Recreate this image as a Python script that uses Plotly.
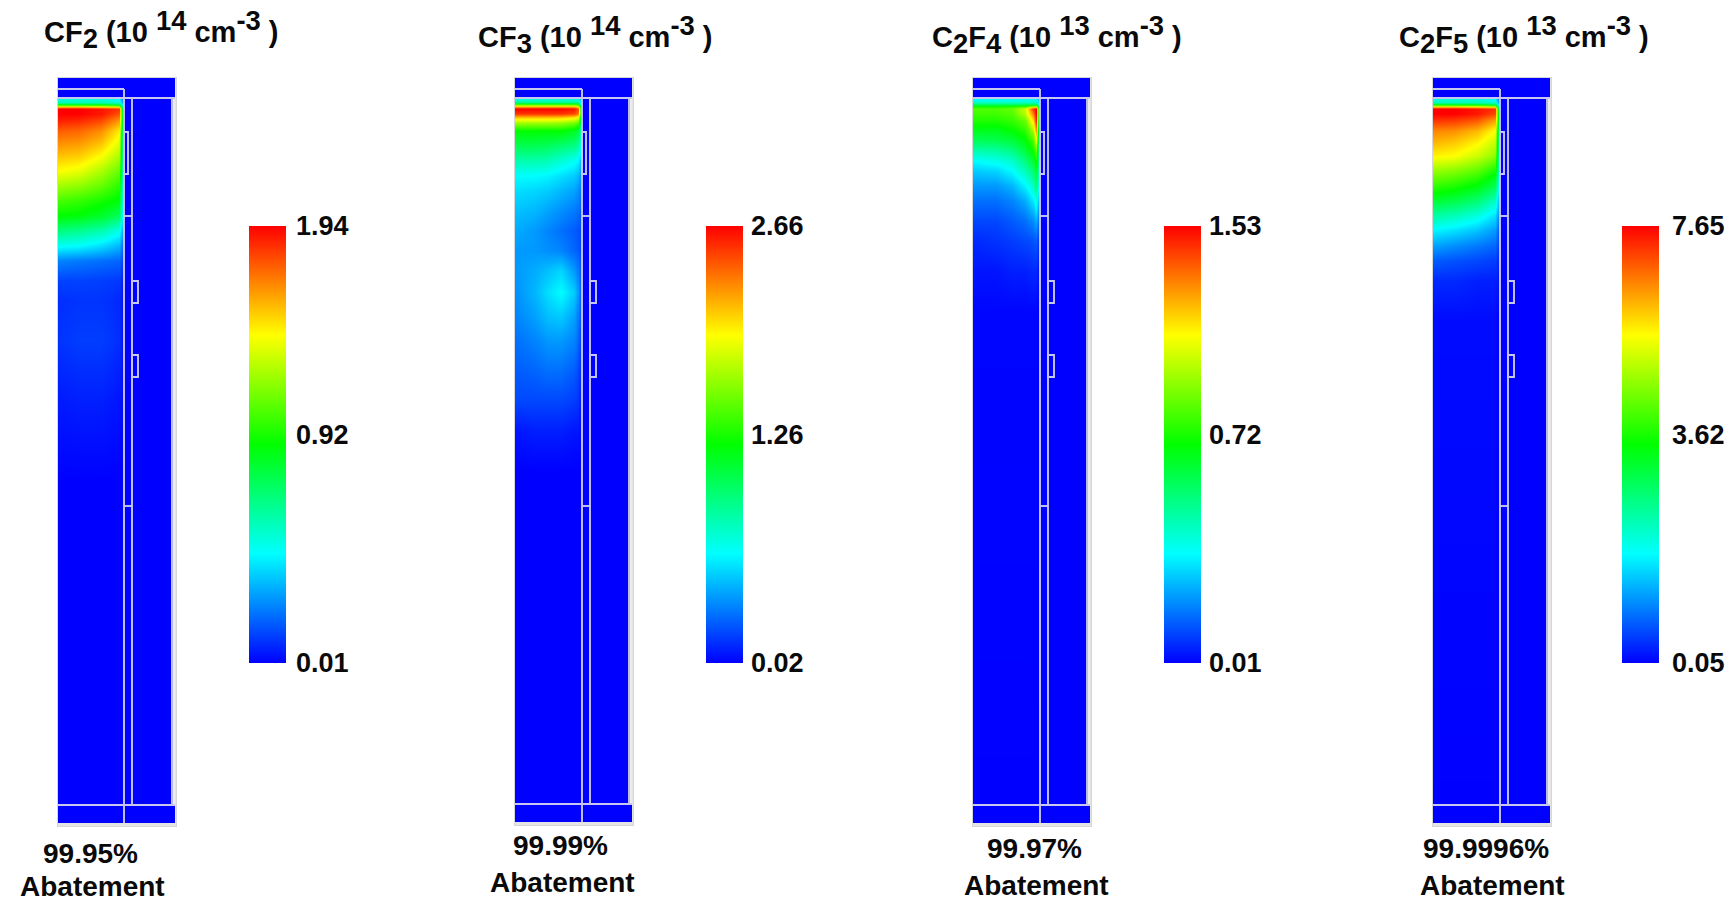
import plotly.graph_objects as go

# ---------- data ----------
title_html = [
    "CF<sub><span style='font-size:135%'>2</span></sub> (10 <sup><span style='font-size:135%'>14</span></sup> cm<sup><span style='font-size:135%'>-3</span></sup> )",
    "CF<sub><span style='font-size:135%'>3</span></sub> (10 <sup><span style='font-size:135%'>14</span></sup> cm<sup><span style='font-size:135%'>-3</span></sup> )",
    "C<sub><span style='font-size:135%'>2</span></sub>F<sub><span style='font-size:135%'>4</span></sub> (10 <sup><span style='font-size:135%'>13</span></sup> cm<sup><span style='font-size:135%'>-3</span></sup> )",
    "C<sub><span style='font-size:135%'>2</span></sub>F<sub><span style='font-size:135%'>5</span></sub> (10 <sup><span style='font-size:135%'>13</span></sup> cm<sup><span style='font-size:135%'>-3</span></sup> )",
]
abatement = ["99.95%", "99.99%", "99.97%", "99.9996%"]
scale_lo = [0.01, 0.02, 0.01, 0.05]
scale_hi = [1.94, 2.66, 1.53, 7.65]
scale_mid = ["0.92", "1.26", "0.72", "3.62"]

# heat fields: level on the colour scale (0..1); rows = height in chamber, cols = across chamber
cf2_rows = [99, 102, 104, 106, 108, 113, 120, 130, 140, 155, 170, 185, 200, 215, 230, 245, 260, 280, 300, 340, 400, 480, 805]
cf2_cols = [0, 0.33, 0.67, 0.95, 1.0]
cf2_levels = [
    [.28, .28, .28, .25, .15],
    [.33, .33, .33, .30, .18],
    [.50, .50, .50, .45, .25],
    [.78, .78, .75, .70, .35],
    [1.0, 1.0, .98, .95, .45],
    [1.0, 1.0, .98, .92, .50],
    [.97, .96, .93, .85, .48],
    [.91, .90, .86, .77, .45],
    [.87, .86, .82, .73, .42],
    [.81, .80, .75, .67, .40],
    [.75, .73, .67, .60, .36],
    [.66, .64, .60, .54, .32],
    [.57, .55, .52, .49, .30],
    [.50, .49, .46, .41, .26],
    [.38, .36, .33, .27, .18],
    [.26, .25, .22, .18, .12],
    [.13, .12, .11, .10, .07],
    [.065, .065, .06, .055, .03],
    [.045, .05, .05, .04, .02],
    [.05, .06, .06, .045, .02],
    [.025, .03, .03, .02, .01],
    [0, 0, 0, 0, 0],
    [0, 0, 0, 0, 0],
]

cf3_rows = [99, 102, 104, 106, 108, 113, 117, 122, 130, 145, 160, 175, 190, 210, 230, 250, 270, 292, 315, 340, 370, 400, 430, 470, 805]
cf3_cols = [0, 0.3, 0.5, 0.7, 0.9, 0.97, 1.0]
cf3_levels = [
    [.28, .28, .28, .28, .28, .28, .20],
    [.38, .38, .38, .38, .38, .36, .25],
    [.60, .60, .60, .60, .60, .55, .35],
    [.82, .82, .82, .82, .82, .76, .50],
    [1.0, 1.0, 1.0, 1.0, .98, .92, .60],
    [.95, .95, .95, .95, .93, .88, .60],
    [.80, .80, .80, .79, .76, .72, .52],
    [.66, .66, .66, .65, .62, .58, .45],
    [.50, .50, .50, .50, .47, .44, .35],
    [.42, .42, .41, .39, .37, .34, .28],
    [.33, .33, .32, .29, .26, .24, .20],
    [.25, .25, .24, .22, .20, .18, .15],
    [.22, .21, .20, .18, .16, .14, .12],
    [.19, .18, .16, .14, .12, .11, .09],
    [.17, .15, .13, .11, .09, .08, .07],
    [.15, .15, .14, .13, .10, .09, .07],
    [.15, .17, .19, .21, .15, .12, .09],
    [.14, .18, .22, .25, .20, .15, .10],
    [.13, .16, .19, .20, .16, .12, .09],
    [.11, .13, .15, .15, .13, .10, .07],
    [.09, .10, .11, .11, .09, .07, .05],
    [.07, .07, .07, .07, .06, .05, .03],
    [.02, .03, .03, .03, .02, .02, .01],
    [0, 0, 0, 0, 0, 0, 0],
    [0, 0, 0, 0, 0, 0, 0],
]

c2f4_rows = [99, 102, 104, 106, 108, 113, 120, 130, 140, 150, 160, 170, 185, 200, 220, 240, 270, 310, 805]
c2f4_cols = [0, 0.35, 0.6, 0.8, 0.92, 0.97, 1.0]
c2f4_levels = [
    [.25, .25, .25, .25, .25, .25, .20],
    [.32, .32, .32, .32, .32, .32, .24],
    [.42, .42, .42, .42, .44, .46, .30],
    [.52, .52, .54, .58, .68, .72, .45],
    [.58, .58, .60, .70, .95, 1.0, .60],
    [.56, .56, .58, .68, .88, 1.0, .60],
    [.53, .53, .55, .60, .78, .97, .55],
    [.47, .47, .50, .54, .66, .85, .50],
    [.41, .42, .44, .49, .57, .72, .45],
    [.33, .34, .37, .44, .51, .60, .42],
    [.25, .27, .30, .38, .45, .52, .38],
    [.20, .21, .25, .32, .39, .45, .34],
    [.15, .15, .18, .24, .31, .38, .28],
    [.11, .11, .13, .17, .23, .28, .20],
    [.07, .07, .09, .11, .14, .17, .12],
    [.04, .05, .06, .07, .08, .09, .06],
    [.02, .02, .03, .03, .04, .04, .02],
    [.005, .005, .005, .005, .005, .005, .00],
    [0, 0, 0, 0, 0, 0, 0],
]

c2f5_rows = [99, 102, 104, 106, 108, 113, 120, 130, 140, 155, 170, 185, 200, 215, 230, 245, 260, 280, 320, 805]
c2f5_cols = [0, 0.33, 0.67, 0.95, 1.0]
c2f5_levels = [
    [.28, .28, .28, .25, .15],
    [.33, .33, .33, .30, .18],
    [.50, .50, .50, .45, .25],
    [.78, .78, .75, .70, .35],
    [1.0, 1.0, .98, .95, .45],
    [1.0, 1.0, .98, .93, .50],
    [.95, .94, .91, .84, .48],
    [.87, .86, .82, .75, .44],
    [.83, .81, .77, .70, .42],
    [.76, .75, .70, .64, .38],
    [.65, .63, .59, .52, .34],
    [.55, .53, .49, .42, .28],
    [.45, .43, .39, .31, .20],
    [.34, .32, .28, .22, .15],
    [.24, .22, .19, .15, .10],
    [.16, .14, .12, .10, .07],
    [.09, .08, .07, .06, .04],
    [.04, .04, .03, .03, .02],
    [.01, .01, .01, .01, .00],
    [0, 0, 0, 0, 0],
]

field_rows = [cf2_rows, cf3_rows, c2f4_rows, c2f5_rows]
field_cols = [cf2_cols, cf3_cols, c2f4_cols, c2f5_cols]
field_levels = [cf2_levels, cf3_levels, c2f4_levels, c2f5_levels]

# ---------- layout (page pixels) ----------
W, H = 1733, 902
panel_left = [57, 514, 972, 1432]
panel_bottom = [827, 826, 827, 827]
panel_top = 77
bar_left = [249, 706, 1164, 1622]
bar_top, bar_bottom, bar_w = 226, 663, 37
label_gap = [5, 3, 3, 8]
mid_frac = 0.522
title_xy = [(42, 30), (476, 34), (930, 34), (1397, 34)]
pct_xy = [(90, 853), (560, 845), (1034, 848), (1486, 848)]
word_xy = [(92, 886), (562, 882), (1036, 885), (1492, 885)]

FONT = "Liberation Sans"
INK = "#0a0a0a"
LINE = "#c6c6ee"
FRAME = "#d6d6d6"
rainbow = [[0, "#0000ff"], [0.25, "#00ffff"], [0.5, "#00ff00"], [0.75, "#ffff00"], [1, "#ff0000"]]

fig = go.Figure()
shapes, annos = [], []
layout_axes = {}

for i in range(4):
    L = panel_left[i]
    B = panel_bottom[i]
    n = "" if i == 0 else str(i + 1)
    wall = L + 67 if i == 0 else L + 68
    second = wall + 8
    inner_r = L + 115
    band_r = L + 117
    heat_l = L + 1
    heat_r = wall - 2
    lo, hi = scale_lo[i], scale_hi[i]

    xs = [heat_l + c * (heat_r - heat_l) for c in field_cols[i]]
    zs = [[lo + f * (hi - lo) for f in row] for row in field_levels[i]]
    fig.add_trace(go.Heatmap(
        x=xs, y=field_rows[i], z=zs, zsmooth="best", zmin=lo, zmax=hi,
        colorscale=rainbow, xaxis="x" + n, yaxis="y" + n, hoverinfo="skip",
        colorbar=dict(
            x=bar_left[i] / W, xanchor="left", xref="paper", xpad=0,
            y=1 - bar_top / H, yanchor="top", yref="paper", ypad=0,
            len=bar_bottom - bar_top, lenmode="pixels",
            thickness=bar_w, thicknessmode="pixels",
            outlinewidth=0, borderwidth=0,
            ticks="outside", ticklen=label_gap[i], tickcolor="rgba(0,0,0,0)",
            tickvals=[lo, lo + mid_frac * (hi - lo), hi],
            ticktext=[f"{lo:.2f}", scale_mid[i], f"{hi:.2f}"],
            tickfont=dict(family=FONT, size=27, color=INK, weight=700),
        ),
    ))

    layout_axes["xaxis" + n] = dict(domain=[L / W, (L + 120) / W], range=[L, L + 120],
                                    visible=False, fixedrange=True)
    layout_axes["yaxis" + n] = dict(domain=[1 - B / H, 1 - panel_top / H],
                                    range=[B, panel_top], visible=False, fixedrange=True)

    def seg(x0, y0, x1, y1, color=LINE, width=1.9):
        shapes.append(dict(type="line", xref="x" + n, yref="y" + n, x0=x0, y0=y0, x1=x1, y1=y1,
                           line=dict(color=color, width=width)))

    def box(x0, y0, x1, y1, color=LINE, width=1.9, fill=None):
        shapes.append(dict(type="rect", xref="x" + n, yref="y" + n, x0=x0, y0=y0, x1=x1, y1=y1,
                           line=dict(color=color, width=width), fillcolor=fill or "rgba(0,0,0,0)"))

    line_bot = B - 22
    band_bot = B - 4
    # pale strips at the right and bottom of the frame
    box(inner_r + 1, 99, L + 120, line_bot, color="rgba(0,0,0,0)", width=0, fill="#ebebeb")
    box(L + 118, 78, L + 120, B, color="rgba(0,0,0,0)", width=0, fill="#e4e4e4")
    box(L, band_bot, L + 120, B, color="rgba(0,0,0,0)", width=0, fill="#e4e4e4")
    # internal structure
    seg(L, 98, band_r + 1, 98)
    seg(L, 89, wall, 89)
    seg(wall, 89, wall, band_bot)
    seg(second, 98, second, line_bot)
    seg(inner_r, 98, inner_r, line_bot)
    seg(L, line_bot, band_r + 1, line_bot)
    seg(wall, 216, second, 216)
    seg(wall, 506, second, 506)
    box(wall, 132, wall + 4, 174)
    box(second, 281, second + 6, 303)
    box(second, 355, second + 6, 377)
    box(L, panel_top, L + 120, B, color=FRAME, width=2)

    annos.append(dict(text=title_html[i], x=title_xy[i][0] / W, y=1 - title_xy[i][1] / H,
                      xref="paper", yref="paper", xanchor="left", yanchor="middle", showarrow=False,
                      font=dict(family=FONT, size=29, color=INK, weight=700)))
    annos.append(dict(text=abatement[i], x=pct_xy[i][0] / W, y=1 - pct_xy[i][1] / H,
                      xref="paper", yref="paper", xanchor="center", yanchor="middle", showarrow=False,
                      font=dict(family=FONT, size=28, color=INK, weight=700)))
    annos.append(dict(text="Abatement", x=word_xy[i][0] / W, y=1 - word_xy[i][1] / H,
                      xref="paper", yref="paper", xanchor="center", yanchor="middle", showarrow=False,
                      font=dict(family=FONT, size=28, color=INK, weight=700)))

fig.update_layout(
    width=W, height=H, margin=dict(l=0, r=0, t=0, b=0), autosize=False,
    paper_bgcolor="white", plot_bgcolor="#0000ff", showlegend=False,
    shapes=shapes, annotations=annos, **layout_axes,
)
fig.write_html("out.html", post_script="document.body.style.margin='0';document.body.style.overflow='hidden';",
               config={"displayModeBar": False})
